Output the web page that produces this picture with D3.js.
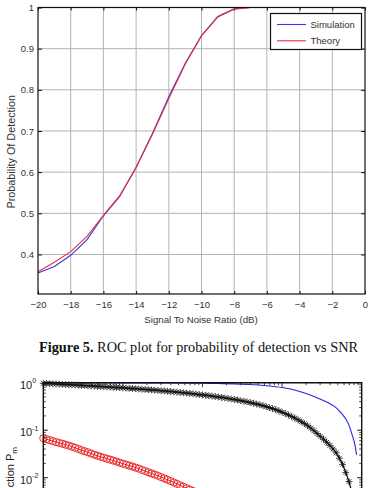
<!DOCTYPE html>
<html>
<head>
<meta charset="utf-8">
<script src="https://cdn.jsdelivr.net/npm/d3@7"></script>
<style>
  body { margin: 0; background: #fff; }
  svg { display: block; }
</style>
</head>
<body>
<svg id="chart" width="368" height="488"></svg>
<script>
// ---- Figure 5: probability of detection vs SNR ----
const snrDb = [-20, -19, -18, -17, -16, -15, -14, -13, -12, -11, -10, -9, -8, -7, -6, -5, -4, -3, -2, -1, 0];
const pdSimulation = [0.355, 0.371, 0.398, 0.436, 0.494, 0.541, 0.612, 0.694, 0.783, 0.864, 0.932, 0.978, 0.997, 1, 1, 1, 1, 1, 1, 1, 1];
const pdTheory = [0.358, 0.381, 0.407, 0.444, 0.495, 0.543, 0.611, 0.692, 0.779, 0.862, 0.931, 0.977, 0.996, 1, 1, 1, 1, 1, 1, 1, 1];
const snrTicks = [-20, -18, -16, -14, -12, -10, -8, -6, -4, -2, 0];
const pdTicks = [0.4, 0.5, 0.6, 0.7, 0.8, 0.9, 1];
const legendLabels = ["Simulation", "Theory"];

// ---- next figure (cut off at the bottom): miss probability, log-log ----
// x is log10 of the false-alarm probability
const pfaExp = [
  -4.00, -3.96, -3.92, -3.88, -3.84, -3.80, -3.76, -3.72, -3.68, -3.64,
  -3.60, -3.56, -3.52, -3.48, -3.44, -3.40, -3.36, -3.32, -3.28, -3.24,
  -3.20, -3.16, -3.12, -3.08, -3.04, -3.00, -2.96, -2.92, -2.88, -2.84,
  -2.80, -2.76, -2.72, -2.68, -2.64, -2.60, -2.56, -2.52, -2.48, -2.44,
  -2.40, -2.36, -2.32, -2.28, -2.24, -2.20, -2.16, -2.12, -2.08, -2.04,
  -2.00, -1.96, -1.92, -1.88, -1.84, -1.80, -1.76, -1.72, -1.68, -1.64,
  -1.60, -1.56, -1.52, -1.48, -1.44, -1.40, -1.36, -1.32, -1.28, -1.24,
  -1.20, -1.16, -1.12, -1.08, -1.04, -1.00, -0.96, -0.92, -0.88, -0.84,
  -0.80, -0.76, -0.72, -0.68, -0.64, -0.60, -0.56, -0.52, -0.48, -0.44,
  -0.40, -0.36, -0.32, -0.28, -0.24, -0.20, -0.16, -0.12, -0.08];
const pmStar = [
  0.970, 0.962, 0.955, 0.947, 0.940, 0.932, 0.925, 0.917, 0.910, 0.902,
  0.895, 0.887, 0.879, 0.871, 0.863, 0.855, 0.847, 0.839, 0.832, 0.824,
  0.817, 0.809, 0.802, 0.793, 0.785, 0.777, 0.769, 0.761, 0.753, 0.745,
  0.738, 0.729, 0.721, 0.713, 0.705, 0.696, 0.687, 0.678, 0.670, 0.661,
  0.652, 0.642, 0.632, 0.623, 0.614, 0.604, 0.594, 0.584, 0.574, 0.563,
  0.553, 0.542, 0.532, 0.521, 0.511, 0.500, 0.489, 0.477, 0.466, 0.454,
  0.443, 0.431, 0.419, 0.406, 0.394, 0.381, 0.369, 0.355, 0.342, 0.328,
  0.314, 0.299, 0.285, 0.270, 0.255, 0.239, 0.224, 0.209, 0.194, 0.180,
  0.166, 0.151, 0.138, 0.124, 0.111, 0.0975, 0.0851, 0.0742, 0.0646, 0.0557,
  0.0479, 0.0403, 0.0335, 0.0257, 0.0191, 0.0128, 0.0083, 0.0047, 0.0025];
const pmCircle = [
  0.0676, 0.0646, 0.0617, 0.0589, 0.0562, 0.0540, 0.0519, 0.0495, 0.0473, 0.0450,
  0.0427, 0.0403, 0.0380, 0.0361, 0.0343, 0.0323, 0.0305, 0.0290, 0.0275, 0.0263,
  0.0251, 0.0240, 0.0229, 0.0218, 0.0207, 0.0197, 0.0188, 0.0180, 0.0172, 0.0163,
  0.0155, 0.0146, 0.0138, 0.0130, 0.0123, 0.0116, 0.0110, 0.0103, 0.00966, 0.00907,
  0.00851, 0.00794, 0.00741, 0.00692, 0.00646, 0.00603, 0.00562, 0.00525, 0.00490, 0.00457,
  0.00427];
const blueExp = [-4, -3.6, -3.2, -2.8, -2.4, -2, -1.8, -1.6, -1.4, -1.2, -1, -0.8, -0.6, -0.48, -0.4, -0.32, -0.24, -0.2, -0.16, -0.12, -0.08, -0.064];
const blueY = [1.0, 0.998, 0.995, 0.991, 0.984, 0.973, 0.962, 0.944, 0.915, 0.865, 0.79, 0.67, 0.515, 0.42, 0.36, 0.295, 0.212, 0.172, 0.128, 0.08, 0.0447, 0.0302];
const logTicks = [1, 0.1, 0.01];
const logExp = ["0", "-1", "-2"];

const svg = d3.select("#chart");
const sans = "Liberation Sans, Arial, sans-serif";
const txt = "#333";

// ===== top plot =====
const x1 = d3.scaleLinear().domain([-20, 0]).range([38, 365]);
const y1 = d3.scaleLinear().domain([0.304, 1]).range([294, 7.5]);

const g1 = svg.append("g");

g1.append("g").selectAll("line").data(snrTicks.slice(1, -1)).enter()
  .append("line")
  .attr("x1", d => x1(d)).attr("x2", d => x1(d))
  .attr("y1", y1.range()[0]).attr("y2", y1.range()[1])
  .attr("stroke", "#b4b4b4").attr("stroke-width", 1);

g1.append("g").selectAll("line").data(pdTicks.slice(0, -1)).enter()
  .append("line")
  .attr("x1", x1.range()[0]).attr("x2", x1.range()[1])
  .attr("y1", d => y1(d)).attr("y2", d => y1(d))
  .attr("stroke", "#b4b4b4").attr("stroke-width", 1);

function styleAxis(sel) {
  sel.select(".domain").remove();
  sel.selectAll(".tick line").attr("stroke", "#111");
  sel.selectAll("text").attr("fill", txt).style("font-family", sans).style("font-size", "9.5px");
}

g1.append("g").attr("transform", `translate(0,${y1.range()[0]})`)
  .call(d3.axisBottom(x1).tickValues(snrTicks).tickSize(-3).tickPadding(7.5))
  .call(styleAxis);
g1.append("g").attr("transform", `translate(0,${y1.range()[1]})`)
  .call(d3.axisTop(x1).tickValues(snrTicks).tickSize(-3).tickFormat(""))
  .call(styleAxis);
g1.append("g").attr("transform", `translate(${x1.range()[0]},0)`)
  .call(d3.axisLeft(y1).tickValues(pdTicks).tickSize(-4).tickPadding(4)
    .tickFormat(d => d === 1 ? "1" : d3.format(".1f")(d)))
  .call(styleAxis);
g1.append("g").attr("transform", `translate(${x1.range()[1]},0)`)
  .call(d3.axisRight(y1).tickValues(pdTicks).tickSize(-4).tickFormat(""))
  .call(styleAxis);

const line1 = d3.line().x((d, i) => x1(snrDb[i])).y(d => y1(d));
g1.append("path").datum(pdSimulation).attr("d", line1)
  .attr("fill", "none").attr("stroke", "#3535e8").attr("stroke-width", 1.1);
g1.append("path").datum(pdTheory).attr("d", line1)
  .attr("fill", "none").attr("stroke", "#e3303f").attr("stroke-width", 1.1);

g1.append("rect")
  .attr("x", x1.range()[0]).attr("y", y1.range()[1])
  .attr("width", x1.range()[1] - x1.range()[0])
  .attr("height", y1.range()[0] - y1.range()[1])
  .attr("fill", "none").attr("stroke", "#111").attr("stroke-width", 1.2);

// legend
const leg = g1.append("g").attr("transform", "translate(270.5,13.5)");
leg.append("rect").attr("width", 91).attr("height", 36)
  .attr("fill", "#fff").attr("stroke", "#111").attr("stroke-width", 1.2);
const legColors = ["#3535e8", "#e3303f"];
legendLabels.forEach((lab, i) => {
  const yy = 11 + i * 16.3;
  leg.append("line").attr("x1", 6.5).attr("x2", 35.5).attr("y1", yy).attr("y2", yy)
    .attr("stroke", legColors[i]).attr("stroke-width", 1.1);
  leg.append("text").attr("x", 40).attr("y", yy + 3.5).text(lab)
    .attr("fill", txt).style("font-family", sans).style("font-size", "9.5px");
});

// axis labels
g1.append("text")
  .attr("transform", `translate(14.5,${(y1.range()[0] + y1.range()[1]) / 2 + 1}) rotate(-90)`)
  .attr("text-anchor", "middle").text("Probability Of Detection")
  .attr("fill", txt).style("font-family", sans).style("font-size", "10.8px");
g1.append("text")
  .attr("x", 201).attr("y", 322.5).attr("text-anchor", "middle")
  .text("Signal To Noise Ratio (dB)")
  .attr("fill", txt).style("font-family", sans).style("font-size", "9.7px");

// caption
const cap = svg.append("text").attr("x", 198.5).attr("y", 352).attr("text-anchor", "middle")
  .style("font-family", "Liberation Serif, Times New Roman, serif").style("font-size", "14.3px").attr("fill", "#111");
cap.append("tspan").style("font-weight", "bold").text("Figure 5.");
cap.append("tspan").text(" ROC plot for probability of detection vs SNR");

// ===== bottom plot (cut off) =====
const x2 = d3.scaleLinear().domain([-4, 0]).range([43.3, 361.7]);
const y2 = d3.scaleLog().domain([1e-4, 1]).range([382.7 + 4 * 47.5, 382.7]);
const g2 = svg.append("g");

// log ticks on the left / right
const minorY = [];
[0.1, 0.01, 0.001].forEach(b => { for (let k = 2; k <= 9; k++) minorY.push(b * k); });
[x2.range()[0], x2.range()[1]].forEach((xx, side) => {
  const dir = side === 0 ? 1 : -1;
  g2.append("g").selectAll("line").data(minorY).enter().append("line")
    .attr("x1", xx).attr("x2", xx + dir * 2.5)
    .attr("y1", d => y2(d)).attr("y2", d => y2(d))
    .attr("stroke", "#111").attr("stroke-width", 0.8);
  g2.append("g").selectAll("line").data(logTicks).enter().append("line")
    .attr("x1", xx).attr("x2", xx + dir * 4.5)
    .attr("y1", d => y2(d)).attr("y2", d => y2(d))
    .attr("stroke", "#111").attr("stroke-width", 1);
});

// log ticks along the top
const topTicks = [];
[-4, -3, -2, -1].forEach(e => { for (let k = 1; k <= 9; k++) topTicks.push({ v: e + Math.log10(k), major: k === 1 }); });
g2.append("g").selectAll("line").data(topTicks).enter().append("line")
  .attr("x1", d => x2(d.v)).attr("x2", d => x2(d.v))
  .attr("y1", y2.range()[1]).attr("y2", d => y2.range()[1] + (d.major ? 4.5 : 2.5))
  .attr("stroke", "#111").attr("stroke-width", 0.8);

// y tick labels with superscripts
logTicks.forEach((v, i) => {
  const t = g2.append("text").attr("x", 20).attr("y", y2(v) + 6)
    .attr("fill", "#222").style("font-family", sans).style("font-size", "11px");
  t.append("tspan").text("10");
  t.append("tspan").attr("dy", -5.5).style("font-size", "7px").text(logExp[i]);
});

// y label, only the end of it is in view
const yl2 = g2.append("text")
  .attr("transform", "translate(14,447) rotate(-90)")
  .attr("text-anchor", "end")
  .attr("fill", "#222").style("font-family", sans).style("font-size", "11px");
yl2.append("tspan").text("Probability of Missed Detection P");
yl2.append("tspan").attr("dy", 3).style("font-size", "8px").text("m");

// blue simulation line
const lineB = d3.line().x((d, i) => x2(blueExp[i])).y(d => y2(d)).curve(d3.curveMonotoneX);
g2.append("path").datum(blueY).attr("d", lineB)
  .attr("fill", "none").attr("stroke", "#2626dd").attr("stroke-width", 1.1);

// black asterisks
const lineK = d3.line().x((d, i) => x2(pfaExp[i])).y(d => y2(d));
g2.append("path").datum(pmStar).attr("d", lineK)
  .attr("fill", "none").attr("stroke", "#000").attr("stroke-width", 1.2);
const s = 3.4, sd = 2.4;
const starPath = `M${-s},0L${s},0M0,${-s}L0,${s}M${-sd},${-sd}L${sd},${sd}M${-sd},${sd}L${sd},${-sd}`;
g2.append("g").selectAll("path").data(pmStar).enter().append("path")
  .attr("transform", (d, i) => `translate(${x2(pfaExp[i])},${y2(d)})`)
  .attr("d", starPath)
  .attr("stroke", "#111").attr("stroke-width", 0.8).attr("fill", "none");

// red circles
g2.append("path").datum(pmCircle).attr("d", lineK)
  .attr("fill", "none").attr("stroke", "#e81e1e").attr("stroke-width", 1);
g2.append("g").selectAll("circle").data(pmCircle).enter().append("circle")
  .attr("cx", (d, i) => x2(pfaExp[i])).attr("cy", d => y2(d)).attr("r", 3.6)
  .attr("fill", "none").attr("stroke", "#e82020").attr("stroke-width", 0.9);

// box
g2.append("path")
  .attr("d", `M${x2.range()[0]},${y2.range()[0]}V${y2.range()[1]}H${x2.range()[1]}V${y2.range()[0]}`)
  .attr("fill", "none").attr("stroke", "#111").attr("stroke-width", 1.4);
</script>
</body>
</html>
